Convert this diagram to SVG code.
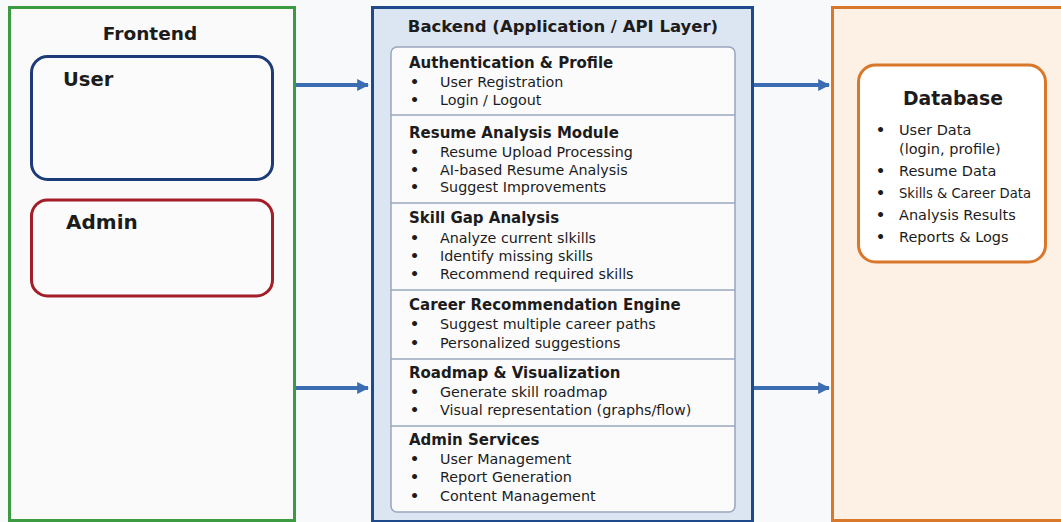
<svg xmlns="http://www.w3.org/2000/svg" width="1061" height="522" viewBox="0 0 1061 522">
<style>
.t{font-family:"DejaVu Sans","Open Sans",sans-serif;fill:#1c1c1c}
.h{font-weight:700}
.sec{font-size:15px;font-weight:700}
.it{font-size:14.3px}
.bl{font-size:14.3px;font-weight:700}
.db{font-size:14.5px}
.conn{stroke:#3b6db3;stroke-width:4;fill:none}
</style>
<defs>
<marker id="ah" viewBox="0 0 10 10" refX="9" refY="5" markerWidth="3" markerHeight="3.2" orient="auto" markerUnits="strokeWidth">
<path d="M0,0 L10,5 L0,10 z" fill="#3b6db3"/>
</marker>
</defs>
<rect x="0" y="0" width="1061" height="522" fill="#f7f9fb"/>

<g id="frontend">
<rect x="9.5" y="7.5" width="285" height="513" fill="#fafafa" stroke="#3c9a40" stroke-width="3"/>
<text class="t h" x="150" y="40" font-size="18.5" text-anchor="middle">Frontend</text>
</g>
<g id="user">
<rect x="31.5" y="56.5" width="241" height="123" rx="16" fill="#fbfbfb" stroke="#1d3b78" stroke-width="3"/>
<text class="t h" x="63" y="86" font-size="19.5">User</text>
</g>
<g id="admin">
<rect x="31.5" y="200" width="241" height="96" rx="16" fill="#fbfbfb" stroke="#a31d26" stroke-width="3"/>
<text class="t h" x="66" y="229" font-size="20">Admin</text>
</g>

<g id="backend">
<rect x="372.5" y="7.5" width="380" height="514" fill="#dce5f2" stroke="#1e4a8c" stroke-width="3"/>
<text class="t h" x="563" y="32" font-size="16.5" text-anchor="middle">Backend (Application / API Layer)</text>
<rect x="391" y="47" width="344" height="465" rx="6" fill="#fbfbfc" stroke="#98a7bd" stroke-width="1.5"/>
<g stroke="#98a7bd" stroke-width="1.5">
<line x1="391" y1="115" x2="735" y2="115"/>
<line x1="391" y1="203" x2="735" y2="203"/>
<line x1="391" y1="290" x2="735" y2="290"/>
<line x1="391" y1="359" x2="735" y2="359"/>
<line x1="391" y1="426" x2="735" y2="426"/>
</g>
</g>
<g id="auth" class="t">
<text class="sec" x="409" y="68">Authentication &amp; Profile</text>
<text class="bl" x="410" y="87">•</text><text class="it" x="440" y="87">User Registration</text>
<text class="bl" x="410" y="105">•</text><text class="it" x="440" y="105">Login / Logout</text>
</g>
<g id="resume" class="t">
<text class="sec" x="409" y="138">Resume Analysis Module</text>
<text class="bl" x="410" y="157">•</text><text class="it" x="440" y="157">Resume Upload Processing</text>
<text class="bl" x="410" y="175">•</text><text class="it" x="440" y="175">AI-based Resume Analysis</text>
<text class="bl" x="410" y="192">•</text><text class="it" x="440" y="192">Suggest Improvements</text>
</g>
<g id="skillgap" class="t">
<text class="sec" x="409" y="223">Skill Gap Analysis</text>
<text class="bl" x="410" y="243">•</text><text class="it" x="440" y="243">Analyze current slkills</text>
<text class="bl" x="410" y="261">•</text><text class="it" x="440" y="261">Identify missing skills</text>
<text class="bl" x="410" y="279">•</text><text class="it" x="440" y="279">Recommend required skills</text>
</g>
<g id="career" class="t">
<text class="sec" x="409" y="310">Career Recommendation Engine</text>
<text class="bl" x="410" y="329">•</text><text class="it" x="440" y="329">Suggest multiple career paths</text>
<text class="bl" x="410" y="348">•</text><text class="it" x="440" y="348">Personalized suggestions</text>
</g>
<g id="roadmap" class="t">
<text class="sec" x="409" y="378">Roadmap &amp; Visualization</text>
<text class="bl" x="410" y="397">•</text><text class="it" x="440" y="397">Generate skill roadmap</text>
<text class="bl" x="410" y="415">•</text><text class="it" x="440" y="415">Visual representation (graphs/flow)</text>
</g>
<g id="adminsvc" class="t">
<text class="sec" x="409" y="445">Admin Services</text>
<text class="bl" x="410" y="464">•</text><text class="it" x="440" y="464">User Management</text>
<text class="bl" x="410" y="482">•</text><text class="it" x="440" y="482">Report Generation</text>
<text class="bl" x="410" y="501">•</text><text class="it" x="440" y="501">Content Management</text>
</g>

<g id="dbarea">
<rect x="832.5" y="7.5" width="240" height="513" fill="#fdf1e5" stroke="#d9772a" stroke-width="3"/>
</g>
<g id="database" class="t">
<rect x="858.5" y="65" width="187" height="197" rx="17" fill="#ffffff" stroke="#d9772a" stroke-width="3"/>
<text class="h" x="953" y="105" font-size="18.8" text-anchor="middle">Database</text>
<text class="bl" x="876" y="135">•</text><text class="db" x="899" y="135">User Data</text>
<text class="db" x="899" y="154">(login, profile)</text>
<text class="bl" x="876" y="176">•</text><text class="db" x="899" y="176">Resume Data</text>
<text class="bl" x="876" y="198">•</text><text class="db" x="899" y="198" textLength="132" lengthAdjust="spacingAndGlyphs">Skills &amp; Career Data</text>
<text class="bl" x="876" y="220">•</text><text class="db" x="899" y="220">Analysis Results</text>
<text class="bl" x="876" y="242">•</text><text class="db" x="899" y="242">Reports &amp; Logs</text>
</g>

<g id="connectors">
<line class="conn" x1="296" y1="85" x2="368" y2="85" marker-end="url(#ah)"/>
<line class="conn" x1="296" y1="388" x2="368" y2="388" marker-end="url(#ah)"/>
<line class="conn" x1="754" y1="85" x2="829" y2="85" marker-end="url(#ah)"/>
<line class="conn" x1="754" y1="388" x2="829" y2="388" marker-end="url(#ah)"/>
</g>
</svg>
